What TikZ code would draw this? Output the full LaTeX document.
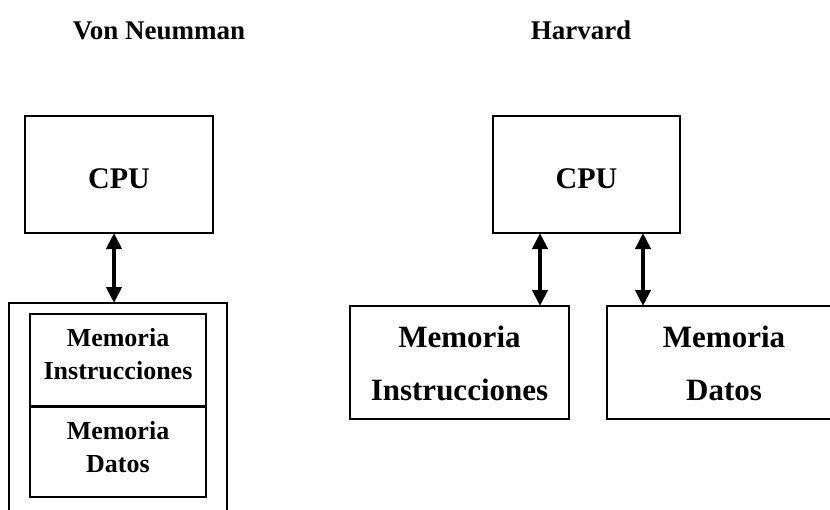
\documentclass[tikz,border=0pt]{standalone}
\usepackage{fontspec}
\setmainfont{Liberation Serif}
\usetikzlibrary{arrows.meta}
\begin{document}
\begin{tikzpicture}[x=1pt,y=-1pt,
  box/.style={draw, line width=2pt, inner sep=0pt, outer sep=0pt, rectangle},
  biarrow/.style={line width=4pt, {Triangle[width=15pt,length=16pt]}-{Triangle[width=15pt,length=16pt]}},
  txt/.style={anchor=base, inner sep=0pt, font=\bfseries\fontsize{#1}{#1}\selectfont},
]
\useasboundingbox (0,0) rectangle (830,509);
\clip (0,0) rectangle (830,509);
% titles
\node[txt=27] (tvn) at (159,39) {Von Neumman};
\node[txt=27] (th) at (581,39) {Harvard};
% Von Neumann
\node[box, minimum width=188pt, minimum height=117pt] (cpuL) at (119,174.5) {};
\node[txt=30] (cpuLt) at (119,188) {CPU};
\node[box, minimum width=218pt, minimum height=237pt] (memL) at (118,421.5) {};
\node[box, minimum width=176pt, minimum height=91.5pt] (insL) at (118,359.75) {};
\node[box, minimum width=176pt, minimum height=90.5pt] (datL) at (118,451.75) {};
\node[txt=26] (insL1) at (118,346) {Memoria};
\node[txt=26] (insL2) at (118,379) {Instrucciones};
\node[txt=26] (datL1) at (118,439) {Memoria};
\node[txt=26] (datL2) at (118,472) {Datos};
\draw[biarrow] ([xshift=-5pt]cpuL.south) -- ([xshift=-5pt]cpuL.south |- memL.north);
% Harvard
\node[box, minimum width=187pt, minimum height=117pt] (cpuR) at (586.5,174.5) {};
\node[txt=30] (cpuRt) at (586.5,188) {CPU};
\node[box, minimum width=219pt, minimum height=113pt] (insR) at (459.5,362.5) {};
\node[box, minimum width=234pt, minimum height=113pt] (datR) at (724,362.5) {};
\node[txt=31] (insR1) at (459.5,347) {Memoria};
\node[txt=31] (insR2) at (459.5,400) {Instrucciones};
\node[txt=31] (datR1) at (724,347) {Memoria};
\node[txt=31] (datR2) at (724,400) {Datos};
\draw[biarrow] ([xshift=-46.5pt]cpuR.south) -- ([xshift=-46.5pt]cpuR.south |- insR.north);
\draw[biarrow] ([xshift=56.5pt]cpuR.south) -- ([xshift=56.5pt]cpuR.south |- datR.north);
\end{tikzpicture}
\end{document}
